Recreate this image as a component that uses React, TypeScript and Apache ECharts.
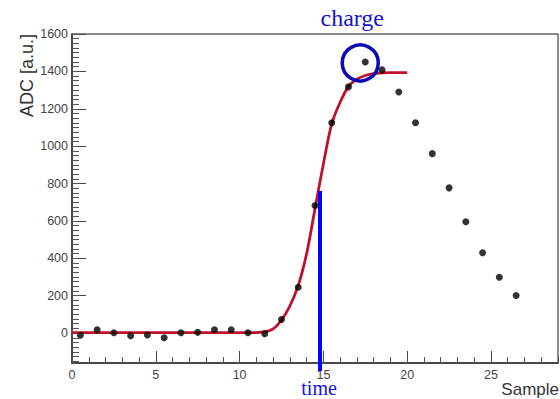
import React, { useEffect, useRef } from "react";
import * as echarts from "echarts";

// Sampled ADC values (bin centres) of one pulse
const sampleX = [
  0.5, 1.5, 2.5, 3.5, 4.5, 5.5, 6.5, 7.5, 8.5, 9.5, 10.5, 11.5, 12.5, 13.5,
  14.5, 15.5, 16.5, 17.5, 18.5, 19.5, 20.5, 21.5, 22.5, 23.5, 24.5, 25.5, 26.5,
];
const adcValues = [
  -12, 18, 2, -14, -10, -25, 2, 4, 18, 18, 2, -3, 73, 245, 683, 1125, 1317,
  1450, 1408, 1290, 1125, 960, 777, 596, 430, 299, 201,
];

// Fitted rising-edge curve
const fitX = [
  0, 1, 2, 3, 4, 5, 6, 7, 8, 9, 10, 11, 11.5, 12, 12.5, 13, 13.5, 14, 14.5,
  15, 15.5, 16, 16.5, 17, 17.5, 18, 19, 20,
];
const fitY = [
  2, 2, 2, 2, 2, 2, 2, 2, 2, 2, 2, 3, 6, 22, 70, 145, 255, 425, 665, 905,
  1120, 1235, 1320, 1358, 1378, 1388, 1393, 1393,
];

// Axis ranges and ticks
const xMin = 0;
const xMax = 29;
const xMajorStep = 5;
const xMinorStep = 1;
const yMin = -160;
const yMax = 1600;
const yMajorTicks = [0, 200, 400, 600, 800, 1000, 1200, 1400, 1600];
const yMinorTicks = Array.from({ length: 71 }, (_, i) => -150 + i * 25);

// Extracted features
const timeMark = { x: 14.8, top: 760 };
const chargeMark = { x: 17.2, y: 1445 };

const sans = "Liberation Sans, Arial, sans-serif";
const serif = "Liberation Serif, Times New Roman, serif";

export default function App() {
  const ref = useRef<HTMLDivElement>(null);

  useEffect(() => {
    if (!ref.current) return;
    const chart = echarts.init(ref.current, undefined, { renderer: "svg" });

    const labelStyle = { color: "#444", fontSize: 12.5, fontFamily: sans };

    chart.setOption({
      animation: false,
      backgroundColor: "#ffffff",
      grid: {
        left: 72,
        right: 2,
        top: 34,
        bottom: 36,
        show: true,
        borderColor: "#666",
        borderWidth: 1.5,
      },
      xAxis: [
        {
          type: "value",
          min: xMin,
          max: xMax,
          interval: xMajorStep,
          splitLine: { show: false },
          axisLine: {
            show: true,
            onZero: false,
            lineStyle: { color: "#333", width: 1.5 },
          },
          axisTick: {
            show: true,
            inside: true,
            length: 12,
            lineStyle: { color: "#444", width: 1 },
          },
          axisLabel: { ...labelStyle, margin: 5, showMaxLabel: false },
        },
        {
          type: "value",
          min: xMin,
          max: xMax,
          interval: xMinorStep,
          position: "bottom",
          splitLine: { show: false },
          axisLine: { show: false, onZero: false },
          axisTick: {
            show: true,
            inside: true,
            length: 6,
            lineStyle: { color: "#555", width: 1 },
          },
          axisLabel: { show: false },
        },
      ],
      yAxis: [
        {
          type: "value",
          min: yMin,
          max: yMax,
          splitLine: { show: false },
          axisLine: {
            show: true,
            onZero: false,
            lineStyle: { color: "#333", width: 1.5 },
          },
          axisTick: {
            show: true,
            inside: true,
            length: 14,
            customValues: yMajorTicks,
            lineStyle: { color: "#444", width: 1 },
          },
          axisLabel: {
            ...labelStyle,
            margin: 4,
            customValues: yMajorTicks,
            formatter: (v: number) => String(v),
          },
        },
        {
          type: "value",
          min: yMin,
          max: yMax,
          position: "left",
          splitLine: { show: false },
          axisLine: { show: false, onZero: false },
          axisTick: {
            show: true,
            inside: true,
            length: 7,
            customValues: yMinorTicks,
            lineStyle: { color: "#555", width: 1 },
          },
          axisLabel: { show: false },
        },
      ],
      series: [
        {
          type: "line",
          name: "fit",
          data: fitX.map((x, i) => [x, fitY[i]]),
          showSymbol: false,
          smooth: 0.3,
          lineStyle: { color: "#c0102c", width: 2.8 },
          z: 2,
        },
        {
          type: "scatter",
          name: "samples",
          data: sampleX.map((x, i) => [x, adcValues[i]]),
          symbol: "circle",
          symbolSize: 7,
          itemStyle: { color: "#000" },
          z: 3,
        },
      ],
    });

    const finder = { xAxisIndex: 0, yAxisIndex: 0 };
    const [lx, ly] = chart.convertToPixel(finder, [timeMark.x, timeMark.top]);
    const [, yBottom] = chart.convertToPixel(finder, [timeMark.x, yMin]);
    const [cx, cy] = chart.convertToPixel(finder, [chargeMark.x, chargeMark.y]);

    chart.setOption({
      graphic: [
        {
          type: "line",
          shape: { x1: lx, y1: ly, x2: lx, y2: yBottom + 8 },
          style: { stroke: "#0000ff", lineWidth: 4 },
          z: 10,
        },
        {
          type: "circle",
          shape: { cx, cy, r: 18 },
          style: { fill: "transparent", stroke: "#0a0ab4", lineWidth: 3.5 },
          z: 10,
        },
        {
          type: "text",
          x: cx - 8,
          y: 18,
          style: {
            text: "charge",
            fill: "#1515cc",
            font: `24px ${serif}`,
            textAlign: "center",
            textVerticalAlign: "middle",
          },
          z: 10,
        },
        {
          type: "text",
          x: lx - 1,
          y: 388,
          style: {
            text: "time",
            fill: "#1515dd",
            font: `20px ${serif}`,
            textAlign: "center",
            textVerticalAlign: "middle",
          },
          z: 10,
        },
        {
          type: "text",
          x: 559,
          y: 389,
          style: {
            text: "Sample",
            fill: "#333",
            font: `17px ${sans}`,
            textAlign: "right",
            textVerticalAlign: "middle",
          },
        },
        {
          type: "text",
          x: 27,
          y: 34,
          rotation: Math.PI / 2,
          style: {
            text: "ADC [a.u.]",
            fill: "#333",
            font: `18px ${sans}`,
            textAlign: "right",
            textVerticalAlign: "middle",
          },
        },
      ],
    });

    return () => chart.dispose();
  }, []);

  return (
    <div
      ref={ref}
      style={{ position: "fixed", left: 0, top: 0, width: 560, height: 399 }}
    />
  );
}
